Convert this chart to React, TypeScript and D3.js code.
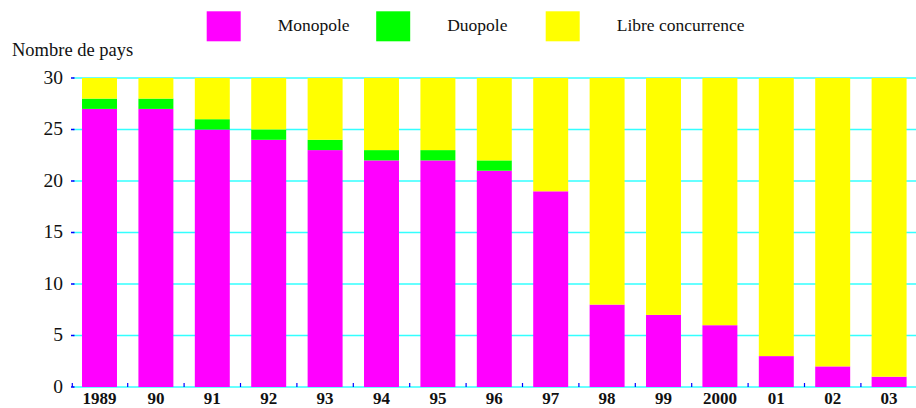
import React from "react";
import * as d3 from "d3";

const years = ["1989", "90", "91", "92", "93", "94", "95", "96", "97", "98", "99", "2000", "01", "02", "03"];
const monopole = [27, 27, 25, 24, 23, 22, 22, 21, 19, 8, 7, 6, 3, 2, 1];
const duopole = [1, 1, 1, 1, 1, 1, 1, 1, 0, 0, 0, 0, 0, 0, 0];
const libre = [2, 2, 4, 5, 6, 7, 7, 8, 11, 22, 23, 24, 27, 28, 29];
const yTicks = [0, 5, 10, 15, 20, 25, 30];

const seriesNames = ["Monopole", "Duopole", "Libre concurrence"];
const colors = ["#ff00ff", "#00ff00", "#ffff00"];

const width = 916;
const height = 408;

export default function App() {
  const rows = years.map((y, i) => ({ year: y, Monopole: monopole[i], Duopole: duopole[i], "Libre concurrence": libre[i] }));
  const stack = d3.stack<any>().keys(seriesNames)(rows);

  const x = d3.scaleBand().domain(years).range([71.3, 917.3]).paddingInner(0.38).paddingOuter(0.19);
  const y = d3.scaleLinear().domain([0, 30]).range([387, 78]);

  const step = x.step();
  const boundaries = years.map((_, i) => 71.3 + step * i);

  return (
    <svg width={width} height={height} style={{ position: "absolute", left: 0, top: 0, fontFamily: "Liberation Serif, serif" }}>
      {/* grid */}
      {yTicks.map((t) => (
        <line key={t} x1={73} x2={width} y1={y(t)} y2={y(t)} stroke="#33ffff" strokeWidth={1.5} />
      ))}
      {/* bars */}
      {stack.map((s, si) => (
        <g key={s.key} fill={colors[si]}>
          {s.map((d, i) =>
            d[1] - d[0] > 0 ? (
              <rect key={i} x={x(years[i])} width={x.bandwidth()} y={y(d[1])} height={y(d[0]) - y(d[1])} />
            ) : null
          )}
        </g>
      ))}
      {/* y ticks */}
      {yTicks.map((t) => (
        <g key={t}>
          <line x1={71} x2={74.5} y1={y(t)} y2={y(t)} stroke="#0000ff" strokeWidth={1.5} />
          <text x={63} y={y(t) + 5.5} textAnchor="end" fontSize={19.5} fill="#111">
            {t}
          </text>
        </g>
      ))}
      {/* x ticks */}
      {boundaries.map((b, i) => (
        <line key={i} x1={b + (i === 0 ? 1 : 0)} x2={b + (i === 0 ? 1 : 0)} y1={383} y2={387} stroke="#0000ff" strokeWidth={1.2} />
      ))}
      {years.map((yr) => (
        <text key={yr} x={(x(yr) as number) + x.bandwidth() / 2} y={404} textAnchor="middle" fontSize={17} fontWeight="bold" fill="#111">
          {yr}
        </text>
      ))}
      <text x={12} y={56} fontSize={18.5} fill="#111">
        Nombre de pays
      </text>
      {/* legend */}
      {seriesNames.map((n, i) => (
        <g key={n} transform={`translate(${206.7 + i * 169.5},11.3)`}>
          <rect width={34} height={30} fill={colors[i]} />
          <text x={71} y={20} fontSize={17.5} fill="#111">
            {n}
          </text>
        </g>
      ))}
    </svg>
  );
}
